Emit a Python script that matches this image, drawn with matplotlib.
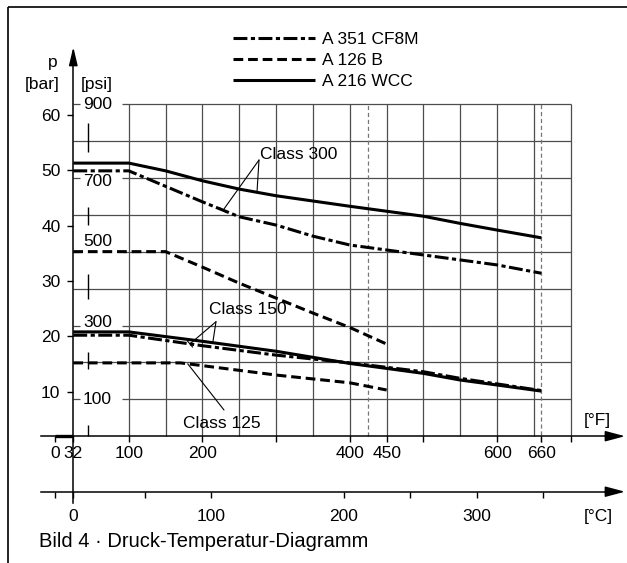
import numpy as np
import matplotlib
matplotlib.use("Agg")
import matplotlib.pyplot as plt
from matplotlib.lines import Line2D

plt.rcParams['font.family'] = ['Liberation Sans', 'DejaVu Sans']
plt.rcParams['lines.scale_dashes'] = False
plt.rcParams['lines.solid_capstyle'] = 'butt'

# pressure-temperature curves (temperature in degF, pressure in bar)
t_wcc_300 = [32, 100, 150, 200, 250, 300, 400, 450, 500, 550, 600, 660]
p_wcc_300 = [51.3, 51.3, 49.9, 48.1, 46.6, 45.4, 43.5, 42.6, 41.7, 40.4, 39.2, 37.8]
t_cf8m_300 = [32, 100, 200, 250, 300, 350, 400, 450, 500, 550, 600, 660]
p_cf8m_300 = [49.9, 49.9, 44.3, 41.6, 40.1, 38.1, 36.5, 35.6, 34.7, 33.8, 32.9, 31.4]
t_a126_250 = [32, 150, 200, 250, 300, 350, 400, 450]
p_a126_250 = [35.3, 35.3, 32.5, 29.6, 26.9, 24.2, 21.6, 18.6]
t_wcc_150 = [32, 100, 200, 300, 400, 450, 500, 550, 600, 660]
p_wcc_150 = [20.8, 20.8, 19.1, 17.3, 15.1, 14.2, 13.3, 12.1, 11.2, 10.1]
t_cf8m_150 = [32, 100, 200, 300, 400, 500, 550, 600, 660]
p_cf8m_150 = [20.2, 20.2, 18.3, 16.6, 15.2, 13.6, 12.4, 11.4, 10.2]
t_a126_125 = [32, 170, 200, 300, 400, 450]
p_a126_125 = [15.2, 15.2, 14.7, 13.0, 11.6, 10.3]

materials = ['A 351 CF8M', 'A 126 B', 'A 216 WCC']

bar_ticks = [10, 20, 30, 40, 50, 60]
psi_grid = [100, 200, 300, 400, 500, 600, 700, 800, 900]
psi_labels = [900, 700, 500, 300, 100]
f_grid = list(range(100, 701, 50))
f_ticks = [0, 32, 100, 200, 300, 400, 450, 500, 600, 660, 700]
f_labels = ['0', '32', '100', '200', '', '400', '450', '', '600', '660', '']
c_ticks = [-17.8, 0, 50, 100, 200, 250, 300, 350]
c_labels = ['', '0', '', '100', '200', '', '300', '']
limit_temps = [425, 660]

# ---- layout (pixel positions of the original drawing) ----
W, H = 627, 563
F_REF = [-1000, 0, 32, 100, 1000]
X_REF = [55.1 - 736.7, 55.1, 73.3, 128.8, 128.8 + 663.0]


def f2px(t):
    return np.interp(t, F_REF, X_REF)


def px2f(x):
    return np.interp(x, X_REF, F_REF)


def px2bar(y):
    return (447.0 - y) / 5.534


def px2psi(y):
    return (436.2 - y) / 0.36875


def fx(x):
    return x / W


def fy(y):
    return 1 - y / H


DASHED = (0, (7, 3.5))
DASHDOT = (0, (10, 2.5, 3, 2.5))
LW = 2.2
GRID = '#4d4d4d'
FS = 12.5

fig = plt.figure(figsize=(W / 100, H / 100), dpi=100)

# psi grid and the degF axis
ax = fig.add_axes([0, 0, 1, 1])
ax.set_xscale('function', functions=(f2px, px2f))
ax.set_xlim(px2f(0), px2f(W))
ax.set_ylim(px2psi(H), px2psi(0))
ax.patch.set_visible(False)

# bar scale for the curves
axb = ax.twinx()
axb.set_ylim(px2bar(H), px2bar(0))
axb.patch.set_visible(False)

# degC axis
axc = fig.add_axes([0, 0, 1, 1])
axc.set_xscale('function', functions=(f2px, px2f))
axc.set_xlim(px2f(0), px2f(W))
axc.set_ylim(0, 1)
axc.patch.set_visible(False)

for a in (ax, axb, axc):
    for s in a.spines.values():
        s.set_visible(False)

# degF axis
ax.spines['bottom'].set_visible(True)
ax.spines['bottom'].set_position(('data', 0))
ax.spines['bottom'].set_bounds(px2f(40.7), px2f(612))
ax.spines['bottom'].set_linewidth(1.1)
ax.set_yticks([])
ax.set_xticks(f_ticks, f_labels)
ax.tick_params(axis='x', direction='out', length=4.3, width=1.0, pad=3.0, labelsize=FS)
ax.plot([0, 32], [0, 0], color='k', lw=2.4, solid_capstyle='butt', zorder=4, clip_on=False)
ax.annotate('', xy=(px2f(625), 0), xytext=(px2f(605), 0),
            arrowprops=dict(arrowstyle='-|>,head_length=0.6,head_width=0.16', mutation_scale=20,
                            color='k', lw=1.1, shrinkA=0, shrinkB=0))

# pressure axis (bar)
axb.spines['left'].set_visible(True)
axb.spines['left'].set_position(('data', 32))
axb.spines['left'].set_bounds(px2bar(503), px2bar(55))
axb.spines['left'].set_linewidth(1.1)
axb.yaxis.tick_left()
axb.set_yticks(bar_ticks)
axb.tick_params(axis='y', direction='out', length=4.3, width=1.0, pad=5.0, labelsize=FS)
axb.annotate('', xy=(32, px2bar(47)), xytext=(32, px2bar(63)),
             arrowprops=dict(arrowstyle='-|>,head_length=0.55,head_width=0.13', mutation_scale=20,
                             color='k', lw=1.1, shrinkA=0, shrinkB=0))

# degC axis
c_pos = [c * 9 / 5 + 32 for c in c_ticks]
axc.spines['bottom'].set_visible(True)
axc.spines['bottom'].set_position(('axes', fy(491.7)))
axc.spines['bottom'].set_bounds(px2f(41), px2f(612))
axc.spines['bottom'].set_linewidth(1.1)
axc.set_yticks([])
axc.set_xticks(c_pos, c_labels)
axc.tick_params(axis='x', direction='out', length=4.3, width=1.0, pad=8.5, labelsize=FS)
axc.annotate('', xy=(px2f(625), fy(491.7)), xytext=(px2f(605), fy(491.7)),
             xycoords=('data', 'axes fraction'), textcoords=('data', 'axes fraction'),
             arrowprops=dict(arrowstyle='-|>,head_length=0.6,head_width=0.16', mutation_scale=20,
                             color='k', lw=1.1, shrinkA=0, shrinkB=0))

# grid: psi lines, labelled ones leave room for the label
for psi in psi_grid:
    if psi in psi_labels:
        ax.plot([32, px2f(80)], [psi, psi], color=GRID, lw=0.9, zorder=1)
        ax.plot([px2f(122), 700], [psi, psi], color=GRID, lw=0.9, zorder=1)
    else:
        ax.plot([32, 700], [psi, psi], color=GRID, lw=0.9, zorder=1)
for t in f_grid:
    ax.plot([t, t], [0, 900], color=GRID, lw=0.9, zorder=1)
for t in limit_temps:
    ax.plot([t, t], [-16 if t == 660 else 0, 900], color='#777777', lw=0.9,
            ls=(0, (3, 2)), zorder=1)

# psi scale (interrupted line plus labels)
psi_x = px2f(88)
for lo, hi in [(771, 849), (573, 622), (372, 440), (182, 228), (0, 30)]:
    ax.plot([psi_x, psi_x], [lo, hi], color='k', lw=1.0, zorder=2)
psi_offsets = {900: 0, 700: -2.4, 500: 7.7, 300: 2.4, 100: 0}
for psi in psi_labels:
    ax.annotate(str(psi), xy=(px2f(83), psi), xytext=(0, psi_offsets[psi]),
                textcoords='offset points', ha='left', va='center', fontsize=FS)

# curves
axb.plot(t_wcc_300, p_wcc_300, color='k', lw=LW, zorder=3)
axb.plot(t_cf8m_300, p_cf8m_300, color='k', lw=LW, ls=DASHDOT, zorder=3)
axb.plot(t_a126_250, p_a126_250, color='k', lw=LW, ls=DASHED, zorder=3)
axb.plot(t_wcc_150, p_wcc_150, color='k', lw=LW, zorder=3)
axb.plot(t_cf8m_150, p_cf8m_150, color='k', lw=LW, ls=DASHDOT, zorder=3)
axb.plot(t_a126_125, p_a126_125, color='k', lw=LW, ls=DASHED, zorder=3)


def leader(start, t, ts, ps, bar=False):
    style = '-[,widthB=0.3,lengthB=0' if bar else '-'
    axb.annotate('', xy=(t, np.interp(t, ts, ps)), xytext=start,
                 arrowprops=dict(arrowstyle=style, color='k', lw=0.8, shrinkA=0, shrinkB=0))


axb.text(px2f(298.5), px2bar(154.3), 'Class 300', ha='center', va='center', fontsize=FS)
leader((px2f(259), px2bar(160)), 274, t_wcc_300, p_wcc_300)
leader((px2f(259), px2bar(160)), 228, t_cf8m_300, p_cf8m_300, bar=True)
axb.text(px2f(248), px2bar(309.3), 'Class 150', ha='center', va='center', fontsize=FS)
leader((px2f(216), px2bar(321.7)), 214, t_wcc_150, p_wcc_150)
leader((px2f(216), px2bar(321.7)), 183, t_cf8m_150, p_cf8m_150, bar=True)
axb.text(px2f(222), px2bar(424), 'Class 125', ha='center', va='center', fontsize=FS)
leader((px2f(224), px2bar(410)), 180, t_a126_125, p_a126_125)

# legend
handles = [Line2D([], [], color='k', lw=LW, ls=DASHDOT),
           Line2D([], [], color='k', lw=LW, ls=DASHED),
           Line2D([], [], color='k', lw=LW)]
axc.legend(handles, materials, loc='upper left', bbox_to_anchor=(fx(233), fy(31.5)),
           bbox_transform=fig.transFigure, frameon=False, fontsize=FS, handlelength=4.7,
           handletextpad=0.4, labelspacing=0.36, borderpad=0, borderaxespad=0)

# axis titles and caption
fig.text(fx(53), fy(62), 'p', ha='center', va='center', fontsize=FS)
fig.text(fx(41.7), fy(85), '[bar]', ha='center', va='center', fontsize=FS)
fig.text(fx(97), fy(85), '[psi]', ha='center', va='center', fontsize=FS)
fig.text(fx(597), fy(420), '[°F]', ha='center', va='center', fontsize=FS)
fig.text(fx(598), fy(517), '[°C]', ha='center', va='center', fontsize=FS)
fig.text(fx(39), fy(541.7), 'Bild 4 · Druck-Temperatur-Diagramm', ha='left', va='center',
         fontsize=14.5)

# frame of the figure box
fig.add_artist(Line2D([fx(8.3), fx(8.3)], [0, fy(7.3)], transform=fig.transFigure,
                      color='k', lw=1.2))
fig.add_artist(Line2D([fx(8.3), 1], [fy(7.3), fy(7.3)], transform=fig.transFigure,
                      color='k', lw=1.2))

fig.savefig('out.png', dpi=100)
